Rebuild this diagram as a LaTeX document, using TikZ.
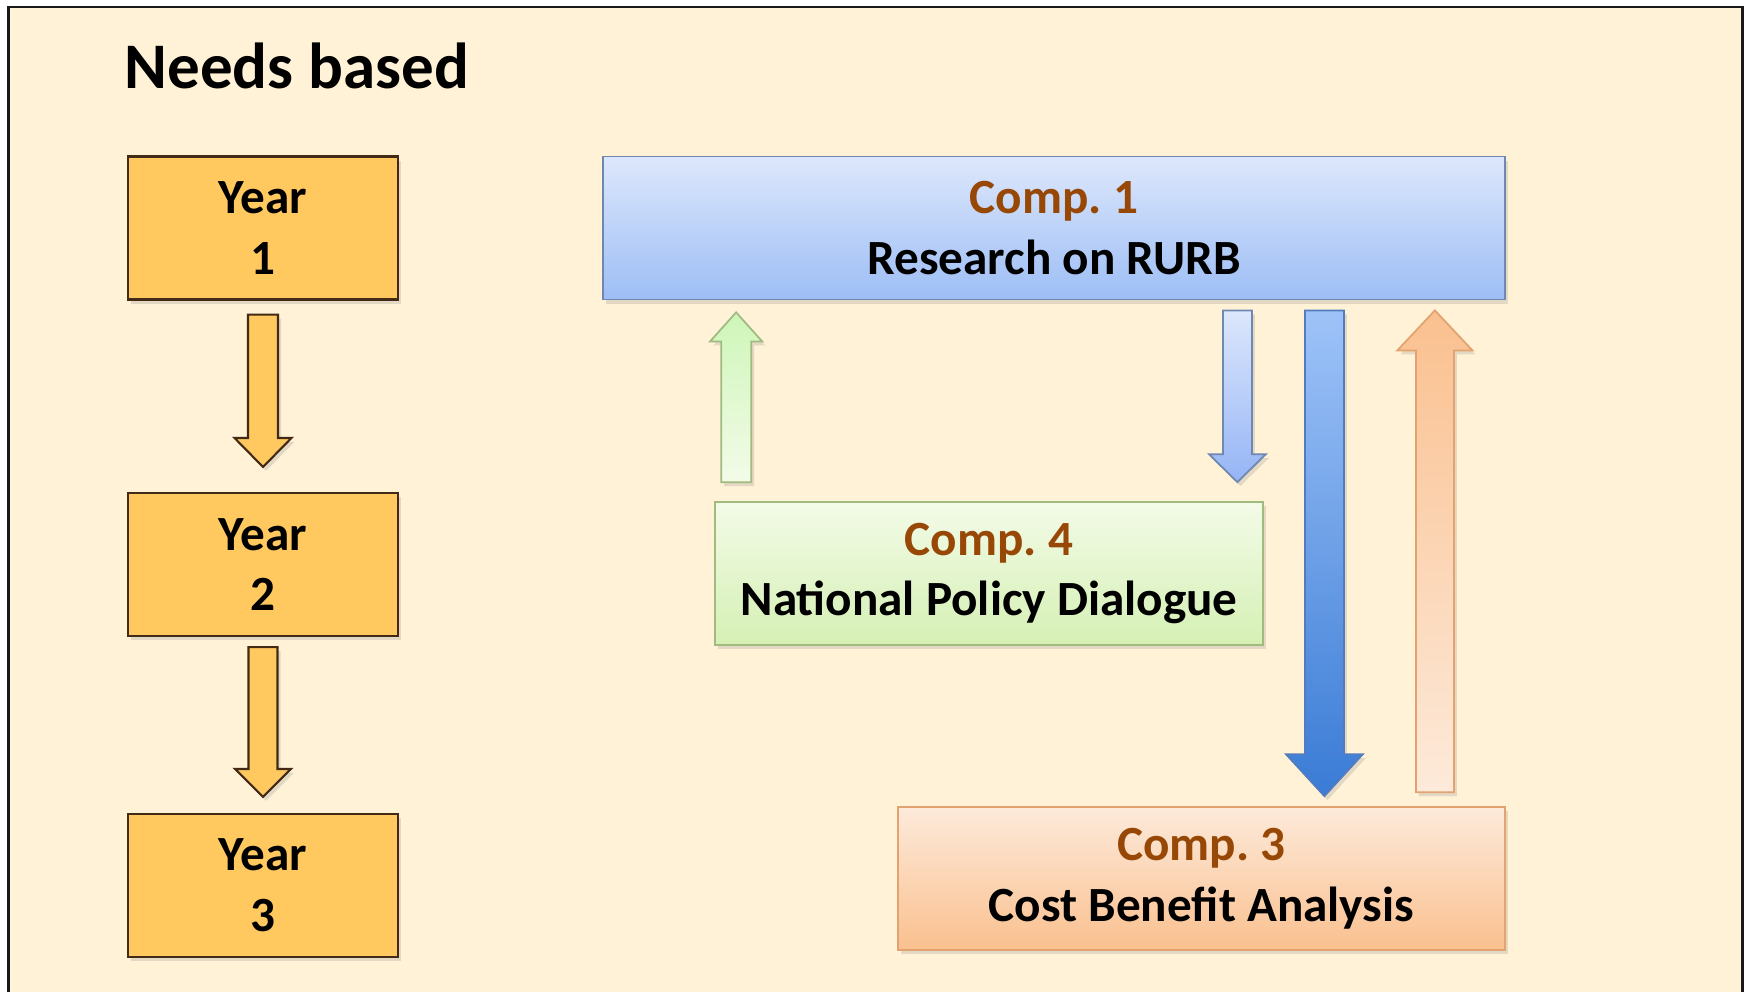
\documentclass[tikz,border=0pt]{standalone}
\usepackage{fontspec}
\setmainfont{Carlito}
\usepackage{tikz}
\usepackage{xcolor}
\usetikzlibrary{calc,positioning,shadows}

\definecolor{cream}{RGB}{255, 242, 214}
\definecolor{yearfill}{RGB}{255, 201, 96}
\definecolor{yearline}{RGB}{66, 42, 22}
\definecolor{comptext}{RGB}{152, 72, 6}
\definecolor{blueA}{RGB}{221, 231, 252}
\definecolor{blueB}{RGB}{157, 190, 245}
\definecolor{blueline}{RGB}{110, 136, 176}
\definecolor{greenA}{RGB}{243, 251, 232}
\definecolor{greenB}{RGB}{213, 240, 180}
\definecolor{greenline}{RGB}{160, 186, 128}
\definecolor{orangeA}{RGB}{253, 234, 218}
\definecolor{orangeB}{RGB}{250, 192, 143}
\definecolor{orangeline}{RGB}{226, 163, 112}
\definecolor{deepblueA}{RGB}{158, 195, 248}
\definecolor{deepblueB}{RGB}{58, 123, 213}
\definecolor{deepblueline}{RGB}{82, 124, 190}

% block arrow: #2 tail, #3 tip (only its y is used), #4 half shaft, #5 half head, #6 signed head length
\newcommand{\blockarrow}[6][]{%
  \draw[#1] let \p1=(#2), \p2=(#3) in
    ({\x1-#4},\y1) -- ({\x1+#4},\y1) -- ({\x1+#4},{\y2+(#6)}) -- ({\x1+#5},{\y2+(#6)})
    -- (\x1,\y2) -- ({\x1-#5},{\y2+(#6)}) -- ({\x1-#4},{\y2+(#6)}) -- cycle;}

\begin{document}
\begin{tikzpicture}[
    boxfont/.style={font=\fontsize{14}{17.3}\selectfont\bfseries},
    softshadow/.style={drop shadow={opacity=0.22, shadow xshift=0.03cm, shadow yshift=-0.04cm}},
    yearbox/.style={boxfont, softshadow, draw=yearline, line width=0.6pt, fill=yearfill,
        minimum width=2.7cm, minimum height=1.43cm, align=center, inner sep=0pt},
    compbox/.style={boxfont, softshadow, line width=0.5pt, minimum height=1.43cm,
        align=center, inner sep=0pt},
    yeararrow/.style={softshadow, draw=yearline, line width=0.6pt, fill=yearfill},
    greenarrow/.style={softshadow, draw=greenline, line width=0.5pt,
        top color=greenB!85!green!60!greenA, bottom color=greenA},
    bluearrow/.style={softshadow, draw=blueline, line width=0.5pt,
        top color=blueA, bottom color=blueB!95!blue},
    deeparrow/.style={softshadow, draw=deepblueline, line width=0.5pt,
        top color=deepblueA, bottom color=deepblueB},
    orangearrow/.style={softshadow, draw=orangeline, line width=0.5pt,
        top color=orangeB, bottom color=orangeA}
]
    \useasboundingbox (0,0) rectangle (17.47,9.92);

    % Frame
    \fill[white] (0,0) rectangle (17.47,9.92);
    \fill[cream] (0.085,0) rectangle (17.425,9.85);
    \draw[black!90, line width=0.85pt] (0.085,0) -- (0.085,9.85) -- (17.425,9.85) -- (17.425,0);

    % Title
    \node[anchor=base west, inner sep=0pt, font=\fontsize{18.5}{22}\selectfont\bfseries] (title) at (1.24,9.03) {Needs based};

    % Years
    \node[yearbox] (y1) at (2.63,7.64) {Year\\1};
    \node[yearbox] (y2) at (2.63,4.275) {Year\\2};
    \node[yearbox] (y3) at (2.63,1.065) {Year\\3};

    % Components
    \node[compbox, draw=blueline, top color=blueA, bottom color=blueB, minimum width=9.02cm]
        (c1) at (10.54,7.64) {{\color{comptext}Comp.\ 1}\\Research on RURB};
    \node[compbox, draw=greenline, top color=greenA, bottom color=greenB, minimum width=5.48cm]
        (c4) at (9.89,4.185) {{\color{comptext}Comp.\ 4}\\National Policy Dialogue};
    \node[compbox, draw=orangeline, top color=orangeA, bottom color=orangeB, minimum width=6.07cm]
        (c3) at (12.015,1.135) {{\color{comptext}Comp.\ 3}\\Cost Benefit Analysis};

    % Arrow ends
    \coordinate (gx) at ($(c4.north west)+(0.22,0)$);
    \coordinate (lx) at ($(c4.north east)+(-0.265,0)$);
    \coordinate (dx) at ($(c3.north east)+(-1.815,0)$);
    \coordinate (ox) at ($(c3.north east)+(-0.71,0)$);

    % Year flow
    \blockarrow[yeararrow]{$(y1.south)+(0,-0.14)$}{$(y2.north)+(0,0.25)$}{0.15cm}{0.285cm}{0.29cm}
    \blockarrow[yeararrow]{$(y2.south)+(0,-0.10)$}{$(y3.north)+(0,0.16)$}{0.145cm}{0.28cm}{0.28cm}

    % Component flow
    \blockarrow[greenarrow]{$(gx)+(0,0.19)$}{$(c1.south)+(0,-0.12)$}{0.15cm}{0.26cm}{-0.29cm}
    \blockarrow[bluearrow]{$(lx |- c1.south)+(0,-0.10)$}{$(lx)+(0,0.19)$}{0.145cm}{0.285cm}{0.28cm}
    \blockarrow[deeparrow]{$(dx |- c1.south)+(0,-0.10)$}{$(dx)+(0,0.10)$}{0.195cm}{0.385cm}{0.42cm}
    \blockarrow[orangearrow]{$(ox)+(0,0.14)$}{$(c1.south)+(0,-0.10)$}{0.19cm}{0.375cm}{-0.40cm}
\end{tikzpicture}
\end{document}
